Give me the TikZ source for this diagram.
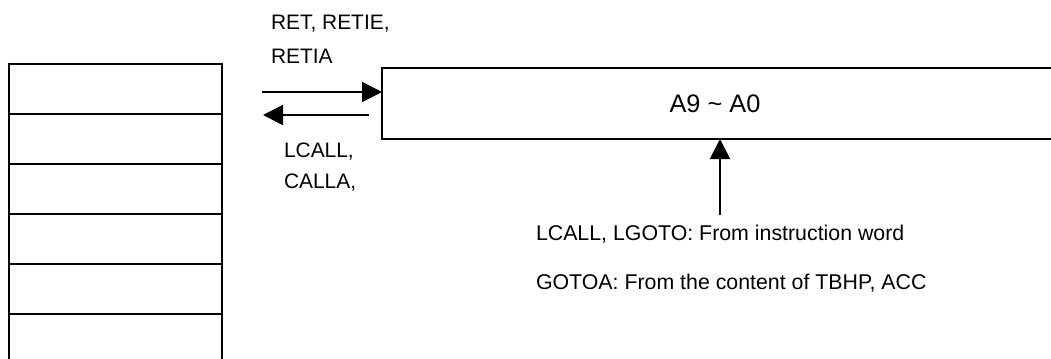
\documentclass[tikz,border=0pt]{standalone}
\usepackage{fontspec}
\setmainfont{Liberation Sans}
\usetikzlibrary{arrows.meta}
\begin{document}
\begin{tikzpicture}[x=0.75pt,y=-0.75pt,line width=1.5pt,
  cell/.style={draw,minimum width=159.75pt,minimum height=37.5pt,inner sep=0pt,outer sep=0pt},
  regbox/.style={draw,minimum width=508.5pt,minimum height=53.25pt,inner sep=0pt,outer sep=0pt},
  arr/.style={-{Triangle[length=15pt,width=15pt]}},
  lbl/.style={anchor=base west,inner sep=0pt,font=\fontsize{15.7pt}{18pt}\selectfont},
  lblb/.style={anchor=base west,inner sep=0pt,font=\fontsize{16pt}{18pt}\selectfont},
  big/.style={inner sep=0pt,font=\fontsize{19pt}{22pt}\selectfont}]
\useasboundingbox[clip] (0,0) rectangle (1051,358);
% stack
\node[cell] (s1) at (115.5,89) {};
\node[cell] (s2) at (115.5,139) {};
\node[cell] (s3) at (115.5,189) {};
\node[cell] (s4) at (115.5,239) {};
\node[cell] (s5) at (115.5,289) {};
\node[cell] (s6) at (115.5,339) {};
% register
\node[regbox] (reg) at (721,103.5) {};
\node[big] (regt) at (715,103.5) {A9 \char`~{} A0};
% arrows
\coordinate (t1) at (262,92);
\draw[arr] (t1) -- (t1 -| reg.west);
\coordinate (b1) at (369,115);
\coordinate (b2) at (263,115);
\draw[arr] (b1) -- (b2);
\coordinate (u0) at (720,215);
\draw[arr] (u0) -- (u0 |- reg.south);
% labels
\node[lbl] (l1) at (270,29) {RET, RETIE,};
\node[lbl] (l2) at (270,63) {RETIA};
\node[lbl] (l3) at (283,157) {LCALL,};
\node[lbl] (l4) at (283,188) {CALLA,};
\node[lblb] (l5) at (535,240) {LCALL, LGOTO: From instruction word};
\node[lblb] (l6) at (535,289) {GOTOA: From the content of TBHP, ACC};
\end{tikzpicture}
\end{document}
